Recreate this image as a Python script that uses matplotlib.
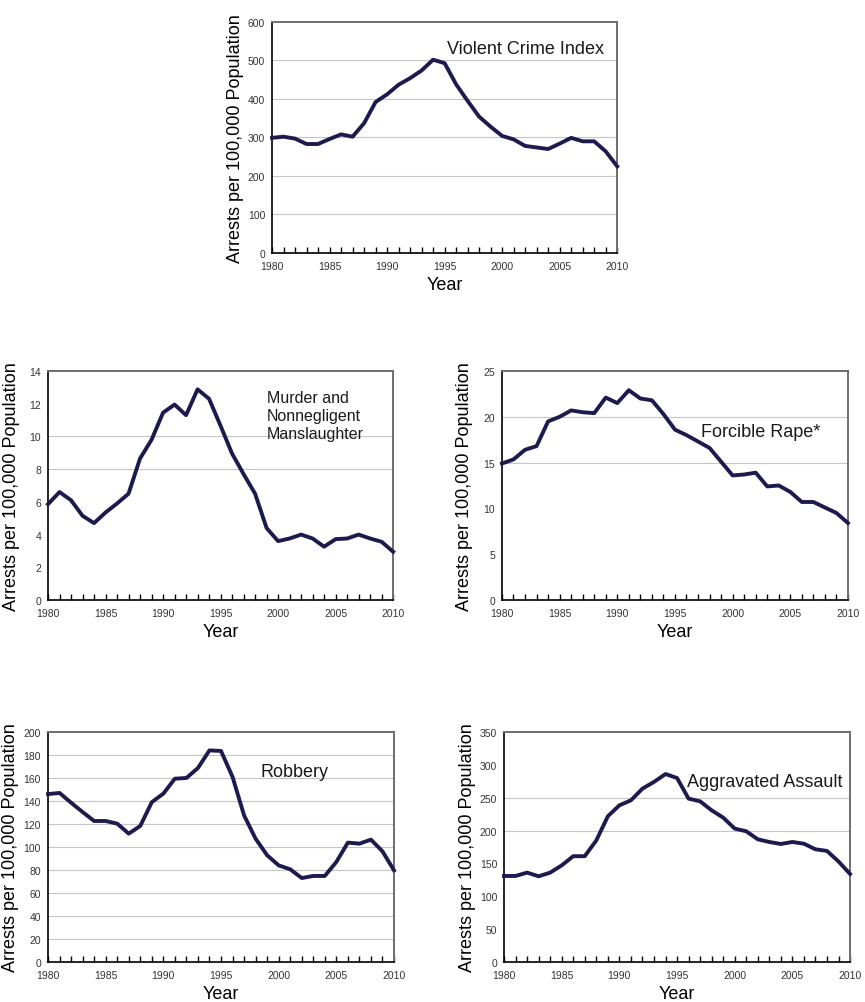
import matplotlib
matplotlib.use("Agg")
import matplotlib.pyplot as plt
from matplotlib.ticker import MultipleLocator

plt.rcParams['font.family'] = ['Liberation Sans', 'DejaVu Sans']

years = list(range(1980, 2011))

violent = [299, 302, 297, 283, 283, 296, 308, 302, 337, 392, 412, 437, 454, 474,
           502, 493, 438, 395, 354, 328, 304, 295, 278, 274, 270, 284, 299, 290,
           290, 264, 225]
murder = [5.86, 6.6, 6.1, 5.15, 4.7, 5.35, 5.9, 6.5, 8.65, 9.8, 11.45, 11.95, 11.3,
          12.88, 12.3, 10.65, 8.95, 7.7, 6.5, 4.4, 3.6, 3.76, 4.0, 3.76, 3.26, 3.72,
          3.76, 4.0, 3.76, 3.56, 2.95]
rape = [14.9, 15.35, 16.4, 16.8, 19.5, 20.0, 20.7, 20.5, 20.4, 22.1, 21.5, 22.9, 22.0,
        21.8, 20.3, 18.6, 18.0, 17.3, 16.6, 15.1, 13.6, 13.7, 13.9, 12.4, 12.5, 11.8,
        10.7, 10.7, 10.1, 9.5, 8.4]
robbery = [146, 147, 138.5, 130.4, 122.6, 122.6, 120.3, 111.6, 118.3, 139, 146.4,
           159.4, 160, 168.7, 184, 183.5, 161, 127.5, 107.2, 92.8, 84, 80.6, 73,
           74.8, 74.8, 87, 103.8, 102.9, 106.4, 96.2, 79.7]
assault = [130.9, 130.9, 136, 130.4, 136, 147, 161, 161, 185, 221.7, 238.4, 246,
           263.8, 274, 286, 280, 248.6, 244.5, 230.8, 219.7, 203, 198.9, 186.7,
           182.6, 179.6, 182.6, 180, 171.5, 169, 153, 134]

titles = ["Violent Crime Index", "Murder and\nNonnegligent\nManslaughter",
          "Forcible Rape*", "Robbery", "Aggravated Assault"]

LINE = '#1d1b4d'


def draw_panel(fig, rect, values, ymax, ystep, grid_vals, label, label_xy, label_size):
    """
    Draw one small arrest rate chart
    """
    ax = fig.add_axes(rect)
    ax.plot(years, values, color=LINE, linewidth=2.8, solid_joinstyle='round',
            zorder=3, clip_on=False)
    ax.set_xlim(1980, 2010)
    ax.set_ylim(0, ymax)
    ax.xaxis.set_major_locator(MultipleLocator(5))
    ax.xaxis.set_minor_locator(MultipleLocator(1))
    ax.yaxis.set_major_locator(MultipleLocator(ystep))
    ax.tick_params(axis='x', which='both', direction='in', length=4, width=1,
                   labelsize=7.5, pad=6, labelcolor='#333333')
    ax.tick_params(axis='y', length=0, labelsize=7.5, pad=5, labelcolor='#333333')
    for g in grid_vals:
        ax.axhline(g, color='#c4c4c4', linewidth=0.8, zorder=1)
    ax.spines['left'].set_linewidth(1.2)
    ax.spines['bottom'].set_linewidth(1.2)
    for side in ('top', 'right'):
        ax.spines[side].set_color('#6e6e6e')
        ax.spines[side].set_linewidth(1.4)
    ax.text(label_xy[0], label_xy[1], label, fontsize=label_size, va='center',
            ha='left', linespacing=1.25, color='#1a1a1a')
    ax.text(-0.107, 0.5, "Arrests per 100,000 Population", rotation=90,
            transform=ax.transAxes, ha='center', va='center', fontsize=13)
    ax.text(0.5, -0.138, "Year", transform=ax.transAxes, ha='center',
            va='center', fontsize=13)
    return ax


fig = plt.figure(figsize=(8.65, 10.03), dpi=100)

draw_panel(fig, [0.3145, 0.7468, 0.399, 0.2303], violent, 600, 100,
           [100, 200, 300, 400, 500], titles[0], (1995.2, 530), 13)
draw_panel(fig, [0.0555, 0.4008, 0.399, 0.2283], murder, 14, 2,
           [8, 10], titles[1], (1999.0, 11.3), 11.5)
draw_panel(fig, [0.5803, 0.4008, 0.400, 0.2283], rape, 25, 5,
           [15, 20], titles[2], (1997.3, 18.45), 13)
draw_panel(fig, [0.0555, 0.0399, 0.400, 0.2293], robbery, 200, 20,
           [20, 40, 60, 80, 100, 120, 140, 160, 180], titles[3], (1998.4, 166), 13)
draw_panel(fig, [0.5827, 0.0399, 0.400, 0.2293], assault, 350, 50,
           [200, 250], titles[4], (1995.9, 275.4), 13)

fig.savefig("out.png", dpi=100)
